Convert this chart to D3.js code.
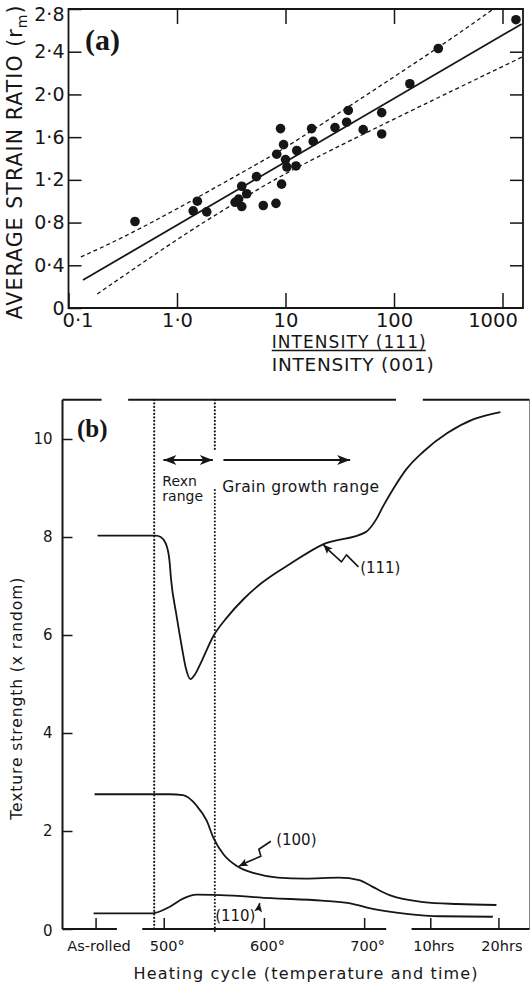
<!DOCTYPE html>
<html>
<head>
<meta charset="utf-8">
<script src="https://cdn.jsdelivr.net/npm/d3@7"></script>
<style>
  body { margin: 0; background: #fff; }
  svg { display: block; font-family: "DejaVu Sans", sans-serif; }
</style>
</head>
<body>
<svg id="chart" width="531" height="984"></svg>
<script>
const ink = "#161616";

// ---------- panel (a): r_m against I(111)/I(001) ----------
const intensityRatio = [9.0, 9.6, 12.7, 8.3, 10.0, 10.3, 12.5, 5.4, 9.2, 3.95, 4.39, 3.43, 3.95, 6.24, 8.17,
  1.54, 1.41, 1.88, 0.41, 3.7, 1330, 256, 140, 37.9, 77, 17.4, 28.6, 36.6, 52, 77, 18.0];
const strainRatio = [1.68, 1.53, 1.475, 1.44, 1.39, 1.32, 1.33, 1.23, 1.16, 1.14, 1.07, 0.99, 0.95, 0.96, 0.98,
  1.0, 0.91, 0.90, 0.81, 1.02, 2.70, 2.43, 2.10, 1.85, 1.83, 1.68, 1.69, 1.74, 1.67, 1.63, 1.56];

const fitX = [0.136, 1503];
const fitR = [0.262, 2.66];
const upperX = [0.13, 0.456, 7.72, 11.0, 256, 822];
const upperR = [0.478, 0.73, 1.433, 1.527, 2.433, 2.8];
const lowerX = [0.184, 1.32, 5.43, 14.6, 1545];
const lowerR = [0.131, 0.731, 1.105, 1.36, 2.354];

const ratioTicks = [0.1, 1, 10, 100, 1000];
const ratioTickLabels = ["0·1", "1·0", "10", "100", "1000"];
const rTicks = [0, 0.4, 0.8, 1.2, 1.6, 2.0, 2.4, 2.8];
const rTickLabels = ["0", "0·4", "0·8", "1·2", "1·6", "2·0", "2·4", "2·8"];

// ---------- panel (b): texture strength through the heating cycle ----------
// cycle position: temperature in degrees, with as-rolled and the 10/20 hr holds placed on the same axis
const cycleTicks = [432, 500, 600, 700, 766, 834];
const cycleLabels = ["As-rolled", "500°", "600°", "700°", "10hrs", "20hrs"];
const strengthTicks = [0, 2, 4, 6, 8, 10];

const tex111U = [434, 492, 497, 502, 505.7, 507.4, 512.5, 518.2, 522, 526.6, 531, 536.1, 549.6, 563.2, 580, 597,
  626, 659, 701.5, 712, 719, 729, 742, 759, 783, 810, 836];
const tex111V = [8.03, 8.03, 8.0, 7.87, 7.53, 7.12, 6.43, 5.74, 5.33, 5.10, 5.19, 5.39, 5.98, 6.36, 6.74, 7.05,
  7.45, 7.85, 8.1, 8.36, 8.63, 8.98, 9.38, 9.74, 10.12, 10.41, 10.55];
const tex100U = [431, 505.7, 519.3, 532.7, 542.9, 549.6, 559.8, 573.3, 590.2, 613.9, 640.9, 674.7, 695, 708.5,
  725.4, 759.2, 793, 832];
const tex100V = [2.75, 2.75, 2.73, 2.52, 2.21, 1.86, 1.52, 1.28, 1.14, 1.05, 1.03, 1.05, 1.0, 0.86, 0.69, 0.55,
  0.51, 0.49];
const tex110U = [430, 488.8, 505.7, 519.3, 532.7, 556.4, 607.1, 657.8, 684.8, 708.5, 742.3, 776, 828.4];
const tex110V = [0.32, 0.32, 0.45, 0.62, 0.70, 0.69, 0.63, 0.58, 0.53, 0.41, 0.31, 0.26, 0.25];

const rexnLimits = [490.5, 551];
const topBreaks = [[399, 438], [464.5, 731.8], [758.5, 865]];
const bottomBreaks = [[399, 453.3], [478.6, 722], [747.3, 865]];

const noteLabels = ["(111)", "(100)", "(110)"];
const noteU = [696, 612.2, 551.3];
const noteV = [7.27, 1.71, 0.16];
const noteTipU = [659.4, 575, 595.7];
const noteTipV = [7.84, 1.28, 0.53];

const svg = d3.select("#chart");

const defs = svg.append("defs");
defs.append("marker").attr("id", "head")
  .attr("viewBox", "-14 -6 15 12").attr("refX", 0).attr("refY", 0)
  .attr("markerUnits", "userSpaceOnUse").attr("markerWidth", 15).attr("markerHeight", 12)
  .attr("orient", "auto-start-reverse")
  .append("path").attr("d", "M0,0 L-13,-5 L-9.5,0 L-13,5 Z").attr("fill", ink);
defs.append("marker").attr("id", "smallhead")
  .attr("viewBox", "-10 -5 11 10").attr("refX", 0).attr("refY", 0)
  .attr("markerUnits", "userSpaceOnUse").attr("markerWidth", 11).attr("markerHeight", 10)
  .attr("orient", "auto")
  .append("path").attr("d", "M0,0 L-9,-4 L-7,0 L-9,4 Z").attr("fill", ink);

function styleAxis(g, size) {
  g.attr("font-family", null).attr("font-size", size);
  g.select(".domain").remove();
  g.selectAll(".tick line").attr("stroke", ink).attr("stroke-width", 1.5);
  g.selectAll(".tick text").attr("fill", ink);
}

// ================= panel (a) =================
const xA = d3.scaleLog().domain([0.1, 1545]).range([68.5, 523]);
const yA = d3.scaleLinear().domain([0, 2.8]).range([308, 9]);

const gA = svg.append("g");

gA.append("g").attr("transform", `translate(0,${yA(0)})`)
  .call(d3.axisBottom(xA).tickValues(ratioTicks).tickSize(-15).tickPadding(5)
    .tickFormat((d, i) => ratioTickLabels[i]))
  .call(g => styleAxis(g, 19.5))
  .call(g => g.selectAll(".tick text").attr("dy", "0.72em")
    .attr("dx", (d, i) => i === 0 ? 9 : i === ratioTicks.length - 1 ? -10 : 0));

gA.append("g").attr("transform", `translate(0,${yA(2.8)})`)
  .call(d3.axisTop(xA).tickValues(ratioTicks.slice(1)).tickSize(-15).tickFormat(""))
  .call(g => styleAxis(g, 10));

gA.append("g").attr("transform", `translate(${xA(0.1)},0)`)
  .call(d3.axisLeft(yA).tickValues(rTicks).tickSize(-13).tickPadding(4)
    .tickFormat((d, i) => rTickLabels[i]))
  .call(g => styleAxis(g, 19))
  .call(g => g.selectAll(".tick text").attr("dy", d => d === 2.8 ? "0.62em" : "0.32em"));

gA.append("g").attr("transform", `translate(${xA(1545)},0)`)
  .call(d3.axisRight(yA).tickValues(rTicks.slice(1, -1)).tickSize(-13).tickFormat(""))
  .call(g => styleAxis(g, 10));

// frame
gA.append("path")
  .attr("d", `M${xA(0.1)},${yA(0)}V${yA(2.8)}H${xA(1545)}V${yA(0)}Z`)
  .attr("fill", "none").attr("stroke", ink).attr("stroke-width", 1.8);

const lineA = d3.line().x(d => xA(d[0])).y(d => yA(d[1]));
gA.append("path").datum(d3.zip(fitX, fitR)).attr("d", lineA)
  .attr("fill", "none").attr("stroke", ink).attr("stroke-width", 1.8);
const bandLine = d3.line().x(d => xA(d[0])).y(d => yA(d[1])).curve(d3.curveBasis);
[[upperX, upperR], [lowerX, lowerR]].forEach(([bx, br]) => {
  gA.append("path").datum(d3.zip(bx, br)).attr("d", bandLine)
    .attr("fill", "none").attr("stroke", ink).attr("stroke-width", 1.3)
    .attr("stroke-dasharray", "4,3");
});

gA.append("g").selectAll("circle")
  .data(d3.zip(intensityRatio, strainRatio))
  .join("circle")
  .attr("cx", d => xA(d[0])).attr("cy", d => yA(d[1]))
  .attr("r", 4.8).attr("fill", ink);

gA.append("text").attr("x", xA(0.1) + 16.5).attr("y", yA(2.8) + 40.5)
  .attr("font-family", "Liberation Serif, serif").attr("font-weight", "bold")
  .attr("font-size", 30).attr("fill", ink).text("(a)");

const yLabA = gA.append("text")
  .attr("transform", `translate(22,${(yA(0) + yA(2.8)) / 2 + 4}) rotate(-90)`)
  .attr("text-anchor", "middle").attr("font-size", 20.5).attr("fill", ink)
  .attr("textLength", 314).attr("lengthAdjust", "spacing");
yLabA.append("tspan").text("AVERAGE STRAIN RATIO (r");
yLabA.append("tspan").attr("font-size", 14).attr("dy", 5).text("m");
yLabA.append("tspan").attr("dy", -5).text(")");

const xLabCx = xA(Math.sqrt(10 * 100));
gA.append("text").attr("x", xLabCx + 9).attr("y", yA(0) + 40)
  .attr("text-anchor", "middle").attr("font-size", 17).attr("fill", ink)
  .attr("textLength", 154).attr("lengthAdjust", "spacing").text("INTENSITY (111)");
gA.append("line").attr("x1", xLabCx - 68).attr("x2", xLabCx + 86)
  .attr("y1", yA(0) + 42.5).attr("y2", yA(0) + 42.5)
  .attr("stroke", ink).attr("stroke-width", 1.4);
gA.append("text").attr("x", xLabCx + 13).attr("y", yA(0) + 63)
  .attr("text-anchor", "middle").attr("font-size", 18.5).attr("fill", ink)
  .attr("textLength", 162).attr("lengthAdjust", "spacing").text("INTENSITY (001)");

// ================= panel (b) =================
const xB = d3.scaleLinear().domain([399, 865]).range([62.5, 529.5]);
const yB = d3.scaleLinear().domain([0, 10.8]).range([929, 399.8]);

const gB = svg.append("g");

gB.append("g").attr("transform", `translate(0,${yB(0)})`)
  .call(d3.axisBottom(xB).tickValues(cycleTicks).tickSize(-11).tickPadding(12)
    .tickFormat((d, i) => cycleLabels[i]))
  .call(g => styleAxis(g, 14.5))
  .call(g => g.selectAll(".tick text").attr("dx", 3));

gB.append("g").attr("transform", `translate(${xB(399)},0)`)
  .call(d3.axisLeft(yB).tickValues(strengthTicks).tickSize(-10).tickPadding(10))
  .call(g => styleAxis(g, 15))
  .call(g => g.selectAll(".tick text").attr("dy", d => d === 0 ? "0.45em" : "0.32em"));

// frame with axis breaks
gB.append("line").attr("x1", xB(399)).attr("x2", xB(399)).attr("y1", yB(0)).attr("y2", yB(10.8))
  .attr("stroke", ink).attr("stroke-width", 2);
gB.append("line").attr("x1", xB(865)).attr("x2", xB(865)).attr("y1", yB(0)).attr("y2", yB(10.8))
  .attr("stroke", "#888").attr("stroke-width", 1);
[[topBreaks, 10.8], [bottomBreaks, 0]].forEach(([segs, v]) => {
  gB.append("g").selectAll("line").data(segs).join("line")
    .attr("x1", d => xB(d[0])).attr("x2", d => xB(d[1]))
    .attr("y1", yB(v)).attr("y2", yB(v))
    .attr("stroke", ink).attr("stroke-width", 2);
});

// recrystallisation limits
const dotted = sel => sel.attr("stroke", ink).attr("stroke-width", 2.1)
  .attr("stroke-linecap", "round").attr("stroke-dasharray", "0.1,3.4");
gB.append("line").attr("x1", xB(rexnLimits[0])).attr("x2", xB(rexnLimits[0]))
  .attr("y1", yB(10.8)).attr("y2", yB(-0.05)).call(dotted);
[[10.8, 9.78], [8.96, -0.05]].forEach(([v0, v1]) => {
  gB.append("line").attr("x1", xB(rexnLimits[1])).attr("x2", xB(rexnLimits[1]))
    .attr("y1", yB(v0)).attr("y2", yB(v1)).call(dotted);
});

const lineB = d3.line().x(d => xB(d[0])).y(d => yB(d[1])).curve(d3.curveMonotoneX);
[[tex111U, tex111V], [tex100U, tex100V], [tex110U, tex110V]].forEach(([u, v]) => {
  gB.append("path").datum(d3.zip(u, v)).attr("d", lineB)
    .attr("fill", "none").attr("stroke", ink).attr("stroke-width", 1.8);
});

// range arrows
gB.append("line").attr("x1", xB(499.7)).attr("x2", xB(549)).attr("y1", yB(9.57)).attr("y2", yB(9.57))
  .attr("stroke", ink).attr("stroke-width", 2)
  .attr("marker-start", "url(#head)").attr("marker-end", "url(#head)");
gB.append("line").attr("x1", xB(559.6)).attr("x2", xB(686)).attr("y1", yB(9.57)).attr("y2", yB(9.57))
  .attr("stroke", ink).attr("stroke-width", 2).attr("marker-end", "url(#head)");

gB.append("text").attr("x", xB(498.6)).attr("y", yB(9.04))
  .attr("font-size", 14).attr("fill", ink).text("Rexn");
gB.append("text").attr("x", xB(498.6)).attr("y", yB(8.73))
  .attr("font-size", 14).attr("fill", ink).text("range");
gB.append("text").attr("x", xB(558.3)).attr("y", yB(8.92))
  .attr("font-size", 15.5).attr("fill", ink)
  .attr("textLength", 157).attr("lengthAdjust", "spacing").text("Grain growth range");

// curve labels with squiggle arrows
const squiggles = [
  [[35, 22], [23, 10], [18, 17], [6, 6], [0, 0]],
  [[32, -25], [20, -17], [22, -10], [8, -4], [0, 0]],
  [[-1, 6], [0, 0]]
];
noteLabels.forEach((lab, i) => {
  gB.append("text").attr("x", xB(noteU[i])).attr("y", yB(noteV[i]))
    .attr("font-size", 15).attr("fill", ink).text(lab);
  const tx = xB(noteTipU[i]), ty = yB(noteTipV[i]);
  gB.append("path")
    .attr("d", d3.line()(squiggles[i].map(p => [tx + p[0], ty + p[1]])))
    .attr("fill", "none").attr("stroke", ink).attr("stroke-width", 1.6)
    .attr("stroke-linejoin", "round").attr("marker-end", "url(#smallhead)");
});

gB.append("text").attr("x", xB(399) + 14.5).attr("y", yB(10.8) + 37.5)
  .attr("font-family", "Liberation Serif, serif").attr("font-weight", "bold")
  .attr("font-size", 25).attr("fill", ink).text("(b)");

gB.append("text")
  .attr("transform", `translate(21.5,${yB(4.7)}) rotate(-90)`)
  .attr("text-anchor", "middle").attr("font-size", 15.5).attr("fill", ink)
  .attr("textLength", 242).attr("lengthAdjust", "spacing")
  .text("Texture strength (x random)");

gB.append("text").attr("x", xB(641.5)).attr("y", yB(0) + 50)
  .attr("text-anchor", "middle").attr("font-size", 16).attr("fill", ink)
  .attr("textLength", 344).attr("lengthAdjust", "spacing")
  .text("Heating cycle (temperature and time)");
</script>
</body>
</html>
